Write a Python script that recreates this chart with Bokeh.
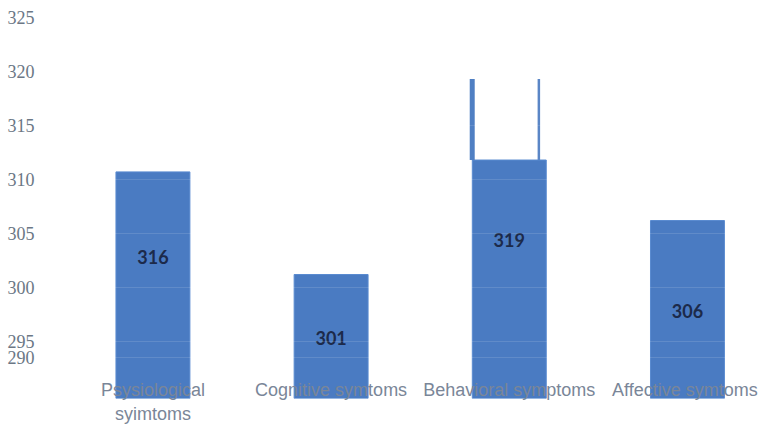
from bokeh.plotting import figure
from bokeh.models import Range1d, FixedTicker, ColumnDataSource
from bokeh.core.properties import value
from bokeh.embed import file_html
from bokeh.resources import INLINE

# ---- data ----
categories = ["Psysiological\nsyimtoms", "Cognitive symtoms", "Behavioral symptoms", "Affective  symtoms"]
values = [316, 301, 319, 306]                 # printed labels
drawn_tops = [310.7, 301.2, 311.8, 306.2]     # visible top of each drawn bar
behav_edge_top = 319.3                        # thin edge strokes above the Behavioral bar
base = 289.72
tick_values = [293.5, 295, 300, 305, 310, 315, 320, 325]
tick_labels = ["290", "295", "300", "305", "310", "315", "320", "325"]

xs = list(range(len(categories)))
src = ColumnDataSource(dict(
    x=xs, top=drawn_tops, bottom=[base] * len(xs),
    lab=[str(v) for v in values],
    ly=[(base + v) / 2 for v in values],
))

p = figure(frame_width=725, frame_height=398, output_backend="svg", toolbar_location=None,
           x_range=Range1d(-0.631, 3.438), y_range=Range1d(base, 326.57),
           min_border_left=40, min_border_right=0, min_border_top=0, min_border_bottom=0)
p.outline_line_color = None
p.background_fill_color = "white"

bar_color = "#4a7bc2"
p.vbar(x="x", top="top", bottom="bottom", width=0.415, source=src,
       fill_color=bar_color, line_color="#5a8bd0", line_width=1)

# thin edge strokes on the Behavioral bar
bi = 2
p.vbar(x=[xs[bi] - 0.208], bottom=[drawn_tops[bi]], top=[behav_edge_top], width=0.028,
       fill_color="#4f7fc3", line_color=None)
p.vbar(x=[xs[bi] + 0.166], bottom=[drawn_tops[bi]], top=[behav_edge_top], width=0.014,
       fill_color="#5a86c6", line_color=None)

p.text(x="x", y="ly", text="lab", source=src, text_align="center", text_baseline="middle",
       text_font=value("Lato"), text_font_style="bold", text_font_size="18px",
       text_color="#1c2a4a")

# axes
p.yaxis.ticker = FixedTicker(ticks=tick_values)
p.yaxis.major_label_overrides = {t: l for t, l in zip(tick_values, tick_labels)}
p.yaxis.axis_line_color = None
p.yaxis.major_tick_line_color = None
p.yaxis.minor_tick_line_color = None
p.yaxis.major_label_text_font = "Liberation Serif"
p.yaxis.major_label_text_font_size = "18px"
p.yaxis.major_label_text_color = "#6b7785"
p.yaxis.major_label_standoff = 0

p.xaxis.ticker = FixedTicker(ticks=xs)
p.xaxis.major_label_overrides = {i: c for i, c in zip(xs, categories)}
p.xaxis.axis_line_color = None
p.xaxis.major_tick_line_color = None
p.xaxis.minor_tick_line_color = None
p.xaxis.major_label_text_font = "Liberation Sans"
p.xaxis.major_label_text_font_size = "18px"
p.xaxis.major_label_text_color = "#7a8698"
p.xaxis.major_label_standoff = -25
p.xaxis.level = "annotation"

p.xgrid.grid_line_color = None
p.ygrid.grid_line_color = "white"
p.ygrid.grid_line_alpha = 0.12
p.ygrid.level = "overlay"

open("out.html", "w").write(file_html(p, INLINE))
